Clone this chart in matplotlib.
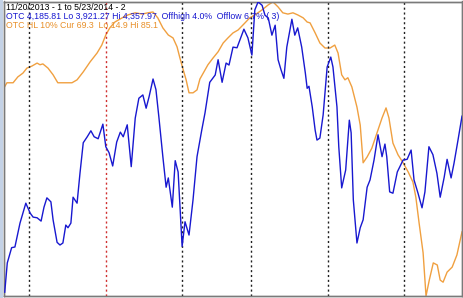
import matplotlib
matplotlib.use("Agg")
import matplotlib.pyplot as plt
from matplotlib.patches import Rectangle

# trading-day index (0 = 11/20/2013) of each traced point and OTC close
otc_day = [0.2, 0.9, 2.1, 3.0, 4.4, 6.0, 7.2, 8.0, 9.1, 10.2,
           11.0, 11.8, 12.9, 13.5, 14.6, 15.4, 16.2, 17.0, 17.6, 18.4,
           19.0, 20.1, 20.9, 21.8, 22.9, 23.9, 24.8, 25.9, 27.2, 28.0,
           28.9, 29.9, 31.0, 32.0, 32.8, 33.9, 35.0, 36.1, 37.1, 38.2,
           39.1, 39.9, 41.0, 41.8, 42.6, 43.7, 44.6, 45.2, 46.3, 47.1,
           47.9, 49.0, 49.8, 50.9, 52.0, 53.1, 54.4, 55.3, 56.6, 58.1,
           58.9, 60.0, 61.1, 61.9, 63.0, 64.1,
           66.0, 67.1, 68.2, 69.0, 69.9, 71.0, 71.8, 72.7, 73.7, 74.6,
           75.4, 76.2, 77.0, 77.8, 79.2, 80.0, 80.8, 81.9, 82.9, 83.4,
           83.9, 84.8, 85.6, 86.1, 86.9, 87.8, 88.9, 89.9, 90.5, 91.6,
           92.1, 92.9, 94.0, 95.0, 95.5, 96.1, 97.1, 98.0, 98.8, 99.9,
           100.7, 101.8, 102.9, 104.0, 104.8, 105.3, 106.1, 107.0, 108.2, 109.0,
           109.8, 110.9, 112.0, 112.8, 113.9, 115.0, 115.8, 116.9, 118.0, 119.1,
           120.0, 121.1, 121.9, 123.0, 123.8, 124.9, 126.0]
otc_close = [3921, 3965, 3988, 3989, 4025, 4055, 4040, 4034, 4033, 4028,
             4049, 4063, 4057, 4030, 3996, 3992, 3995, 4022, 4018, 4025,
             4064, 4055, 4100, 4146, 4155, 4164, 4155, 4152, 4174, 4140,
             4131, 4111, 4147, 4162, 4155, 4173, 4110, 4183, 4213, 4218,
             4198, 4215, 4242, 4226, 4185, 4125, 4079, 4093, 4049, 4119,
             4102, 3990, 4027, 4007, 4060, 4125, 4165, 4191, 4237, 4248,
             4271, 4237, 4266, 4263, 4290, 4289,
             4317, 4304, 4278, 4346, 4358, 4353, 4338, 4334, 4308, 4323,
             4271, 4256, 4243, 4290, 4332, 4308, 4319, 4290, 4251, 4228,
             4231, 4200, 4165, 4150, 4153, 4188, 4260, 4275, 4260, 4200,
             4140, 4078, 4105, 4180, 4161, 4060, 3995, 4018, 4030, 4079,
             4090, 4120, 4158, 4125, 4144, 4125, 4072, 4070, 4102, 4111,
             4120, 4121, 4135, 4090, 4070, 4048, 4072, 4140, 4128, 4100,
             4064, 4094, 4121, 4093, 4115, 4150, 4186]

hl_day = [0.0, 0.8, 2.5, 3.8, 5.2, 6.3, 7.7, 9.1, 9.9, 10.7,
          12.1, 13.5, 14.8, 16.7, 18.7, 20.1, 21.8, 23.7, 25.6, 26.9,
          28.0, 29.1, 30.5, 32.5, 34.1, 36.1, 38.0, 39.6, 41.0, 42.3,
          43.7, 45.2, 46.5, 47.6, 48.4, 49.3, 50.1, 50.9, 52.0, 53.1,
          53.9, 55.0, 56.1, 57.5, 58.9, 60.3, 61.6, 63.0, 64.4,
          66.3, 67.6, 69.0, 71.0, 72.7, 74.0, 75.4, 76.7, 78.1, 79.5,
          80.8, 82.3, 83.4, 84.2, 85.6, 86.9, 88.3, 89.7, 91.0, 91.9,
          92.9, 93.8, 94.6, 95.7, 97.1, 98.0, 98.8, 99.9, 101.2, 102.6,
          104.0, 105.1, 105.9, 107.0, 108.4, 109.8, 111.2, 112.5, 113.3, 114.2,
          115.3, 116.1, 117.0, 118.1, 119.2, 120.0, 120.8, 121.9, 123.3, 124.6, 126.0]
hl_value = [64.6, 65.8, 65.8, 67.2, 68.1, 69.3, 69.8, 70.5, 70.1, 70.3,
            69.3, 67.7, 65.8, 65.8, 65.8, 66.5, 68.4, 70.8, 72.9, 74.8,
            77.2, 78.9, 80.3, 81.3, 82.0, 82.5, 82.2, 82.5, 82.7, 81.3,
            78.9, 77.2, 76.5, 74.4, 71.7, 68.9, 66.5, 63.4, 63.4, 64.1,
            66.7, 68.4, 70.1, 71.7, 73.2, 75.3, 76.5, 77.7, 78.4,
            80.1, 81.3, 82.0, 83.2, 84.4, 85.1, 83.9, 82.5, 82.2, 82.5,
            82.0, 81.3, 80.3, 80.1, 77.7, 75.3, 74.1, 74.1, 74.8, 72.9,
            67.7, 66.5, 67.0, 64.8, 60.0, 55.7, 46.7, 48.1, 50.2, 53.8,
            57.4, 59.8, 57.4, 51.4, 48.6, 46.7, 44.5, 42.1, 38.5, 32.3,
            25.2, 14.9, 18.7, 22.8, 22.3, 18.7, 18.2, 20.6, 21.8, 24.7, 30.2]

# first trading day of each month (index), and which one starts a new year
month_starts = [7, 28, 49, 68, 89, 110]
year_start = [False, True, False, False, False, False]

header = "11/20/2013 - 1 to 5/23/2014 - 2"
otc_label = "OTC 4,185.81 Lo 3,921.27 Hi 4,357.97  Offhigh 4.0%  Offlow 6.7% ( 3)"
hl_label = "OTC HL 10% Cur 69.3  Lo 14.9 Hi 85.1"

W, H = 463, 298
fig = plt.figure(figsize=(W / 100, H / 100), dpi=100)
fig.patch.set_facecolor("white")
fig.patches.append(Rectangle((0, 0), 3 / W, 1, transform=fig.transFigure,
                             facecolor="#c4d2e6", edgecolor="none", zorder=0))

ax = fig.add_axes([3.5 / W, 2 / H, 458.5 / W, 294.5 / H])
ax2 = ax.twinx()
for a in (ax, ax2):
    a.set_xticks([])
    a.set_yticks([])
    for s in a.spines.values():
        s.set_color("#7a7a7a")
        s.set_linewidth(1.0)

ax.set_xlim(-0.14, 126.0)
ax.set_ylim(3915.2, 4358.7)
ax2.set_ylim(14.9, 85.2)

for d, ys in zip(month_starts, year_start):
    ax.axvline(d, color="#d03030" if ys else "#202020", lw=1.0,
               linestyle=(0, (1.5, 2.0)), zorder=1)

ax2.plot(hl_day, hl_value, color="#f0a040", lw=1.0, zorder=2)
ax.plot(otc_day, otc_close, color="#1818d0", lw=1.0, zorder=3)
ax.set_zorder(ax2.get_zorder() + 1)
ax.patch.set_visible(False)

fp = dict(family=["Liberation Sans", "DejaVu Sans"], fontsize=6.3)
fig.text(6 / W, 1 - 7 / H, header, color="black", va="center", ha="left", **fp)
fig.text(6 / W, 1 - 16.5 / H, otc_label, color="#1818d0", va="center", ha="left", **fp)
fig.text(6 / W, 1 - 26 / H, hl_label, color="#e8902a", va="center", ha="left", **fp)

fig.savefig("out.png", dpi=100)
